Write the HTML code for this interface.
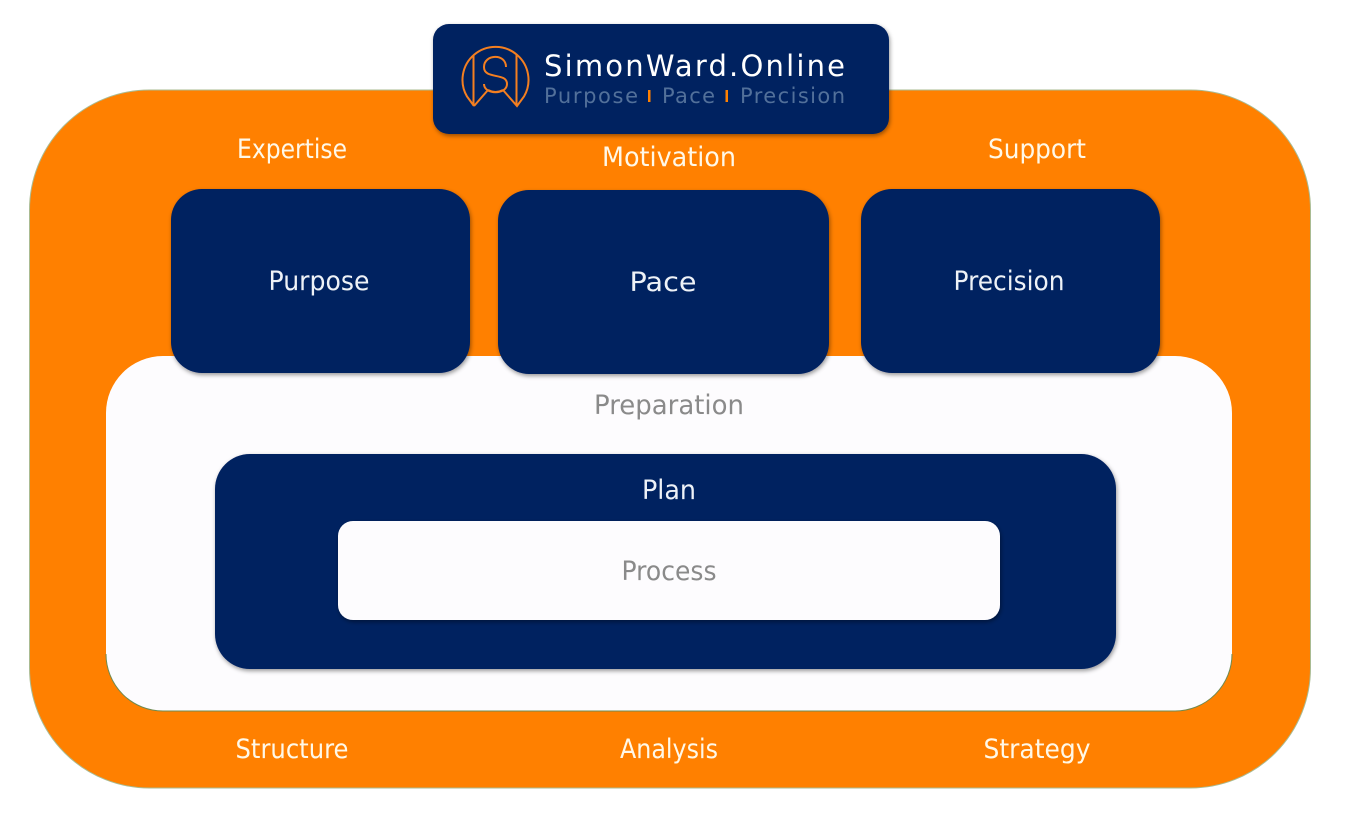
<!DOCTYPE html>
<html>
<head>
<meta charset="utf-8">
<style>
html,body{margin:0;padding:0;background:#fff;width:1346px;height:834px;overflow:hidden}
svg{display:block}
text{font-family:"DejaVu Sans","Liberation Sans",sans-serif}
</style>
</head>
<body>
<svg width="1346" height="834" viewBox="0 0 1346 834" xmlns="http://www.w3.org/2000/svg">
<defs>
<filter id="s" x="-10%" y="-10%" width="120%" height="125%"><feDropShadow dx="1" dy="2" stdDeviation="2.2" flood-color="#000" flood-opacity=".4"/></filter>
</defs>
<rect width="1346" height="834" fill="#fff"/>
<rect x="29.500" y="90" width="1281" height="698" rx="120" fill="#ff8000" stroke="#a9bb92" stroke-width="1"/>
<rect x="106" y="356" width="1126" height="355" rx="57" fill="#fdfcfe"/>
<path d="M163 711 H1175 A57 57 0 0 0 1232 654" fill="none" stroke="#6f8a50" stroke-width="1"/>
<path d="M106 654 A57 57 0 0 0 163 711" fill="none" stroke="#6f8a50" stroke-width="1"/>
<rect x="433" y="24" width="456" height="110" rx="16" fill="#002060" filter="url(#s)"/>
<g fill="none" stroke="#f47f20" stroke-width="2" stroke-linejoin="miter">
<path d="M474 106 L467 96.500 A33 33 0 1 1 524 96.500 L517 106 L503 90"/>
<path d="M474 106 L488 90"/>
<path d="M473.500 55 V106 M516.500 55 V106"/>
<path d="M506 67 C506 53 484 54 484 67 C484 80 507 72 507 84 C507 95 484 95 484 84"/>
<path d="M488 90 Q495.500 94 503 90"/>
</g>
<text x="544" y="76" font-size="29" fill="#fff" textLength="301" lengthAdjust="spacing">SimonWard.Online</text>
<text x="544" y="103" font-size="21" fill="#52709a" textLength="94" lengthAdjust="spacing">Purpose</text>
<text x="662" y="103" font-size="21" fill="#52709a" textLength="53" lengthAdjust="spacing">Pace</text>
<text x="740" y="103" font-size="21" fill="#52709a" textLength="105" lengthAdjust="spacing">Precision</text>
<rect x="648" y="90" width="2.500" height="12" fill="#ff8000"/>
<rect x="725.500" y="90" width="2.500" height="12" fill="#ff8000"/>
<rect x="171" y="189" width="299" height="184" rx="31" fill="#002060" filter="url(#s)"/>
<rect x="498" y="190" width="331" height="184" rx="31" fill="#002060" filter="url(#s)"/>
<rect x="861" y="189" width="299" height="184" rx="31" fill="#002060" filter="url(#s)"/>
<rect x="215" y="454" width="901" height="215" rx="35" fill="#002060" filter="url(#s)"/>
<rect x="338" y="521" width="662" height="99" rx="15" fill="#fdfcfe" filter="url(#s)"/>
<g text-anchor="middle" font-size="27">
<text x="292" y="158" fill="#fff8e8" textLength="110" lengthAdjust="spacingAndGlyphs">Expertise</text>
<text x="669" y="166" fill="#fff8e8" textLength="134" lengthAdjust="spacingAndGlyphs">Motivation</text>
<text x="1037" y="158" fill="#fff8e8" textLength="98" lengthAdjust="spacingAndGlyphs">Support</text>
<text x="319" y="290" fill="#eef2f7" textLength="101" lengthAdjust="spacingAndGlyphs">Purpose</text>
<text x="663" y="291" fill="#eef2f7" textLength="67" lengthAdjust="spacingAndGlyphs">Pace</text>
<text x="1009" y="290" fill="#eef2f7" textLength="111" lengthAdjust="spacingAndGlyphs">Precision</text>
<text x="669" y="414" fill="#8a8a8a" textLength="150" lengthAdjust="spacingAndGlyphs">Preparation</text>
<text x="669" y="499" fill="#eef2f7" textLength="54" lengthAdjust="spacingAndGlyphs">Plan</text>
<text x="669" y="580" fill="#8a8a8a" textLength="95" lengthAdjust="spacingAndGlyphs">Process</text>
<text x="292" y="758" fill="#fff8e8" textLength="113" lengthAdjust="spacingAndGlyphs">Structure</text>
<text x="669" y="758" fill="#fff8e8" textLength="98" lengthAdjust="spacingAndGlyphs">Analysis</text>
<text x="1037" y="758" fill="#fff8e8" textLength="107" lengthAdjust="spacingAndGlyphs">Strategy</text>
</g>
</svg>
</body>
</html>
